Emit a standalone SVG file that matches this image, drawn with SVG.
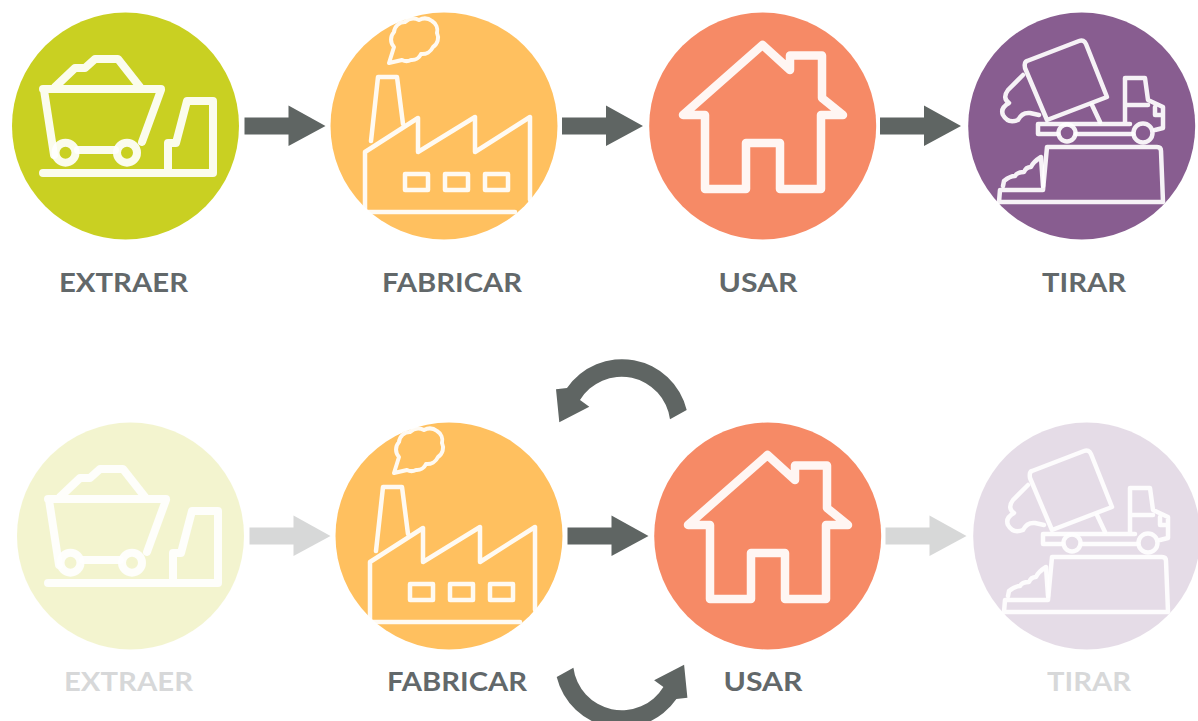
<svg xmlns="http://www.w3.org/2000/svg" width="1198" height="721" viewBox="0 0 1198 721">
<style>
.lbl{font-family:"Lato","Liberation Sans",sans-serif;font-weight:700;font-size:27.500px;fill:#62686a;text-anchor:middle}
.ic{fill:none;stroke:#fff;stroke-opacity:.92;stroke-linejoin:round;stroke-linecap:round}
.faded{opacity:.25}
.fadedc{opacity:.21}
.arr{fill:#5f6563}
</style>
<defs>
<g id="cart"><circle cx="125.500" cy="126" r="113.500" fill="#c9d022"/>
<g class="ic" stroke-width="8">
<path d="M43 89H161M44 90L54 155M161 90L142 142M78 150H115M55 87L75 68H85L95 59H118L140 87"/>
<circle cx="65.500" cy="152.700" r="10"/><circle cx="127" cy="152.700" r="10"/>
<path d="M43 173H213V101H187L176 143H168V171"/></g></g>
<g id="factory"><circle cx="444" cy="126" r="113.500" fill="#ffc05f"/>
<g class="ic" stroke-width="4.500">
<path d="M365 210V152L418 118V152L475 117V152L530 117V200M366 212H515M371 141L378 77H397L403 124"/>
<rect x="405" y="174" width="23" height="16"/><rect x="445" y="174" width="23" height="16"/><rect x="485" y="174" width="23" height="16"/>
<path d="M389 63L394 47A11 11 0 0 1 394 32A11 11 0 0 1 405 22A12 12 0 0 1 419 20A12 12 0 0 1 432 21A11 11 0 0 1 437 33A11 11 0 0 1 433 47A12 12 0 0 1 421 54A10 10 0 0 1 411 60A10 10 0 0 1 402 60Z" stroke-width="4"/></g></g>
<g id="house"><circle cx="762.700" cy="126" r="113.500" fill="#f68a66"/>
<path class="ic" stroke-width="8.500" d="M790 70L762.500 45L683 115H705V189H746V143H780V189H821V115H843L822 98V55.500H790V70"/></g>
<g id="truck"><circle cx="1081.700" cy="126" r="113.500" fill="#885d90"/>
<g class="ic" stroke-width="4.500">
<path d="M1027 61L1079 41Q1084 39 1086 44L1107 97L1047 120L1025 68Q1024 62 1027 61Z"/>
<path d="M1023 75L1008 90Q1002 98 1009 103Q1000 108 1003 115Q1008 124 1018 120Q1022 112 1030 113L1039 115M1092 105L1100 122"/>
<path d="M1125 122V78H1145L1148 100L1163 107V128L1155 130M1125 105H1148M1038 124H1130M1038 124V134H1058M1076 134H1133M1155 107V115H1163"/>
<circle cx="1067" cy="133" r="8.500"/><circle cx="1143" cy="133" r="9.500"/>
<path d="M1047 147H1157Q1161 147 1161 151L1163 202H999L1000 190H1043Z"/>
<path d="M1003 186L1004 181Q1010 176 1015 176Q1017 172 1024 172Q1026 167 1031 167Q1033 162 1041 157L1043 186"/></g></g>
<path id="a" class="arr" d="M0 -8.500H44V-20.500L81 0L44 20V8.500H0Z"/>
<path id="cv" class="arr" d="M686.700 410A66.700 66.700 0 0 0 567 388L556 389.300L559.300 422.300L589.300 406.700L580 400A48.800 48.800 0 0 1 670 419.300Z"/>
</defs>
<g id="connectors">
<use href="#a" x="244.500" y="126"/><use href="#a" x="562" y="126"/><use href="#a" x="880" y="126"/>
<use href="#a" x="249.500" y="536" class="faded"/><use href="#a" x="567.500" y="536"/><use href="#a" x="885.500" y="536" class="faded"/>
<use href="#cv"/><use href="#cv" transform="rotate(180 621.700 543.500)"/>
</g>
<g id="extraer-top"><use href="#cart"/><text class="lbl" x="123.500" y="292" textLength="129" lengthAdjust="spacingAndGlyphs">EXTRAER</text></g>
<g id="fabricar-top"><use href="#factory"/><text class="lbl" x="452" y="292" textLength="140" lengthAdjust="spacingAndGlyphs">FABRICAR</text></g>
<g id="usar-top"><use href="#house"/><text class="lbl" x="758" y="292" textLength="79" lengthAdjust="spacingAndGlyphs">USAR</text></g>
<g id="tirar-top"><use href="#truck"/><text class="lbl" x="1084" y="292" textLength="84" lengthAdjust="spacingAndGlyphs">TIRAR</text></g>
<g id="extraer-bottom"><use href="#cart" class="fadedc" x="5" y="410"/><text class="lbl faded" x="128.500" y="691" textLength="129" lengthAdjust="spacingAndGlyphs">EXTRAER</text></g>
<g id="fabricar-bottom"><use href="#factory" x="5" y="410"/><text class="lbl" x="457" y="691" textLength="140" lengthAdjust="spacingAndGlyphs">FABRICAR</text></g>
<g id="usar-bottom"><use href="#house" x="5" y="410"/><text class="lbl" x="763" y="691" textLength="79" lengthAdjust="spacingAndGlyphs">USAR</text></g>
<g id="tirar-bottom"><use href="#truck" class="fadedc" x="5" y="410"/><text class="lbl faded" x="1089" y="691" textLength="84" lengthAdjust="spacingAndGlyphs">TIRAR</text></g>
</svg>
